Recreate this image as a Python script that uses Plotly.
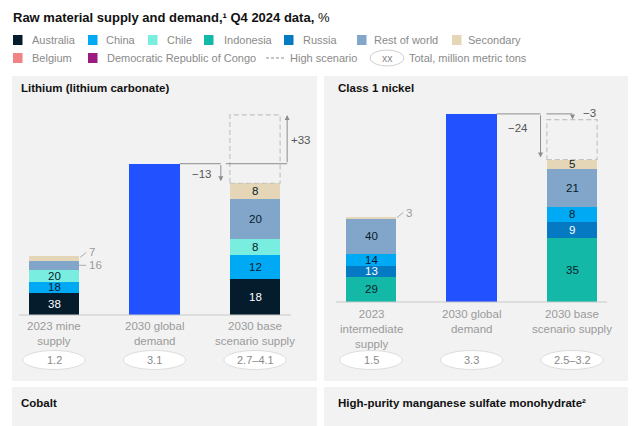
import plotly.graph_objects as go

# The page body has an 8px default margin; the figure is sized to fit the 640x426 window.
OFF = 8
W, H = 640 - OFF, 426 - OFF

# ---------------- DATA ----------------
legend_labels = ["Australia", "China", "Chile", "Indonesia", "Russia", "Rest of world", "Secondary",
                 "Belgium", "Democratic Republic of Congo"]
legend_colors = ["#051C2C", "#00A9F4", "#7AEDE1", "#14B8A6", "#0679C3", "#82A6C9", "#E5D6B7",
                 "#F08383", "#9B1B80"]
color_of = dict(zip(legend_labels, legend_colors))
demand_color = "#2251FF"

# Lithium (lithium carbonate)
li_categories = ["2023 mine<br>supply", "2030 global<br>demand", "2030 base<br>scenario supply"]
li_total_labels = ["1.2", "3.1", "2.7–4.1"]
li_stack_order = ["Australia", "China", "Chile", "Rest of world", "Secondary"]
li_2023_share = [38, 18, 20, 16, 7]
li_2030_share = [18, 12, 8, 20, 8]
li_2023_total = 1.2
li_2030_demand = 3.1
li_2030_base = 2.7
li_2030_high = 4.1
li_gap_labels = ["−13", "+33"]

# Class 1 nickel
ni_categories = ["2023<br>intermediate<br>supply", "2030 global<br>demand", "2030 base<br>scenario supply"]
ni_total_labels = ["1.5", "3.3", "2.5–3.2"]
ni_stack_order = ["Indonesia", "Russia", "China", "Rest of world", "Secondary"]
ni_2023_share = [29, 13, 14, 40, 3]
ni_2030_share = [35, 9, 8, 21, 5]
ni_2023_total = 1.5
ni_2030_demand = 3.3
ni_2030_base = 2.5
ni_2030_high = 3.2
ni_gap_labels = ["−24", "−3"]

title_html = "<b>Raw material supply and demand,¹ Q4 2024 data,</b> %"
panel_titles = ["Lithium (lithium carbonate)", "Class 1 nickel", "Cobalt",
                "High-purity manganese sulfate monohydrate²"]

# ---------------- HELPERS ----------------
FONT = "Liberation Sans"
DARK = "#051C2C"
GRAY_TXT = "#8a8a8a"
LIGHT_TXT = "#9a9a9a"


def px(x):
    return (x - OFF) / W


def py(y):
    return 1 - (y - OFF) / H


fig = go.Figure()
shapes = []
annos = []

# panel backgrounds
panel_bg = "#F2F2F2"
for (x0, y0, x1, y1) in [(12, 76, 317, 381), (324, 76, 628, 381), (12, 387, 317, 440), (324, 387, 628, 440)]:
    shapes.append(dict(type="rect", xref="paper", yref="paper", x0=px(x0), x1=px(x1), y0=py(y1), y1=py(y0),
                       fillcolor=panel_bg, line=dict(width=0), layer="below"))

# axes geometry (window pixels)
UNIT = 100.5  # px per category step
panels = [
    dict(xa="x", ya="y", xaxis="xaxis", yaxis="yaxis", c0=54, xl=19, xr=316, bl=19, br=291,
         base=315, ppm=48.8, top=90),
    dict(xa="x2", ya="y2", xaxis="xaxis2", yaxis="yaxis2", c0=371, xl=336, xr=627, bl=336, br=607,
         base=302, ppm=57.0, top=90),
]
for p in panels:
    fig.layout[p["xaxis"]] = dict(domain=[px(p["xl"]), px(p["xr"])],
                                  range=[(p["xl"] - p["c0"]) / UNIT, (p["xr"] - p["c0"]) / UNIT],
                                  visible=False, anchor=p["ya"], fixedrange=True)
    fig.layout[p["yaxis"]] = dict(domain=[py(p["base"]), py(p["top"])],
                                  range=[0, (p["base"] - p["top"]) / p["ppm"]],
                                  visible=False, anchor=p["xa"], fixedrange=True)
    shapes.append(dict(type="line", xref="paper", yref="paper", x0=px(p["bl"]), x1=px(p["br"]),
                       y0=py(p["base"]), y1=py(p["base"]), line=dict(color="#c8c8c8", width=1)))

BW = 0.5


def add_panel(p, order, share_a, total_a, share_b, total_b, demand, high, cats, tot_labels,
              outside_idx_a, cat_top_px):
    xa, ya = p["xa"], p["ya"]
    sum_a = sum(share_a)
    sum_b = sum(share_b)
    hs_a = [s / sum_a * total_a for s in share_a]
    hs_b = [s / sum_b * total_b for s in share_b]
    for i, name in enumerate(order):
        fig.add_trace(go.Bar(x=[0, 2], y=[hs_a[i], hs_b[i]], width=BW,
                             marker=dict(color=color_of[name], line=dict(width=0)),
                             xaxis=xa, yaxis=ya, showlegend=False, hoverinfo="skip"))
    fig.add_trace(go.Bar(x=[1], y=[demand], width=BW, marker=dict(color=demand_color, line=dict(width=0)),
                         xaxis=xa, yaxis=ya, showlegend=False, hoverinfo="skip"))

    # segment labels
    for xi, shares, hs in [(0, share_a, hs_a), (2, share_b, hs_b)]:
        cum = 0
        for i, name in enumerate(order):
            mid = cum + hs[i] / 2
            cum += hs[i]
            if xi == 0 and i in outside_idx_a:
                continue
            col = "white" if name in ("Australia", "Russia") else DARK
            annos.append(dict(x=xi, y=mid, xref=xa, yref=ya, text=str(shares[i]), showarrow=False,
                              font=dict(family=FONT, size=11.5, color=col), xanchor="center", yanchor="middle"))
    # outside labels for small segments of first bar
    cum = 0
    spans = []
    for h in hs_a:
        spans.append((cum, cum + h))
        cum += h
    ypp = 1 / p["ppm"]
    for i in outside_idx_a:
        lo, hi = spans[i]
        if i == len(order) - 1:  # top segment: diagonal leader
            y0 = hi - 1 * ypp
            y1 = hi + 4 * ypp
            shapes.append(dict(type="line", xref=xa, yref=ya, x0=BW / 2 + 0.01, x1=BW / 2 + 0.07, y0=y0, y1=y1,
                               line=dict(color="#aaaaaa", width=1)))
            annos.append(dict(x=BW / 2 + 0.075, y=y1, xref=xa, yref=ya, text=str(share_a[i]), showarrow=False,
                              font=dict(family=FONT, size=11.5, color=LIGHT_TXT), xanchor="left", yanchor="middle"))
        else:
            mid = (lo + hi) / 2
            shapes.append(dict(type="line", xref=xa, yref=ya, x0=BW / 2, x1=BW / 2 + 0.07, y0=mid, y1=mid,
                               line=dict(color="#aaaaaa", width=1)))
            annos.append(dict(x=BW / 2 + 0.075, y=mid, xref=xa, yref=ya, text=str(share_a[i]), showarrow=False,
                              font=dict(family=FONT, size=11.5, color=LIGHT_TXT), xanchor="left", yanchor="middle"))

    # high-scenario dashed box
    shapes.append(dict(type="rect", xref=xa, yref=ya, x0=2 - BW / 2, x1=2 + BW / 2, y0=total_b, y1=high,
                       line=dict(color="#c4c4c4", width=1.2, dash="5px,3px"), fillcolor="rgba(0,0,0,0)"))

    # category labels and total ellipses
    for i, c in enumerate(cats):
        annos.append(dict(x=i, y=py(cat_top_px), xref=xa, yref="paper", text=c, showarrow=False,
                          font=dict(family=FONT, size=11.5, color=LIGHT_TXT), xanchor="center", yanchor="top",
                          align="center"))
        shapes.append(dict(type="circle", xref=xa, yref="paper", x0=i - 0.31, x1=i + 0.31,
                           y0=py(369.5), y1=py(350.5), fillcolor="white", line=dict(color="#dddddd", width=1)))
        annos.append(dict(x=i, y=py(360), xref=xa, yref="paper", text=tot_labels[i], showarrow=False,
                          font=dict(family=FONT, size=11, color=GRAY_TXT), xanchor="center", yanchor="middle"))


arrow_col = "#8c8c8c"


def gap_arrows(p, demand, base, high, x_down, x_up0, x_up1):
    xa, ya = p["xa"], p["ya"]
    shapes.append(dict(type="line", xref=xa, yref=ya, x0=1 + BW / 2, x1=x_down, y0=demand, y1=demand,
                       line=dict(color=arrow_col, width=1)))
    annos.append(dict(x=x_down, y=base + 2 / p["ppm"], ax=x_down, ay=demand, xref=xa, yref=ya, axref=xa, ayref=ya,
                      showarrow=True, arrowhead=2, arrowsize=1, arrowwidth=1, arrowcolor=arrow_col, text=""))
    shapes.append(dict(type="line", xref=xa, yref=ya, x0=x_up0, x1=x_up1, y0=demand, y1=demand,
                       line=dict(color=arrow_col, width=1)))
    annos.append(dict(x=x_up1, y=high, ax=x_up1, ay=demand, xref=xa, yref=ya, axref=xa, ayref=ya,
                      showarrow=True, arrowhead=2, arrowsize=1, arrowwidth=1, arrowcolor=arrow_col, text=""))


pL, pN = panels
# Lithium
add_panel(pL, li_stack_order, li_2023_share, li_2023_total, li_2030_share, li_2030_base, li_2030_demand,
          li_2030_high, li_categories, li_total_labels, [3, 4], 318)
gap_arrows(pL, li_2030_demand, li_2030_base, li_2030_high, 1.66, 1.71, 2.32)
annos.append(dict(x=1.47, y=(315 - 174) / pL["ppm"], xref="x", yref="y", text=li_gap_labels[0], showarrow=False,
                  font=dict(family=FONT, size=11.5, color="#555555"), xanchor="center", yanchor="middle"))
annos.append(dict(x=2.46, y=(315 - 140) / pL["ppm"], xref="x", yref="y", text=li_gap_labels[1], showarrow=False,
                  font=dict(family=FONT, size=11.5, color="#555555"), xanchor="center", yanchor="middle"))

# Nickel
add_panel(pN, ni_stack_order, ni_2023_share, ni_2023_total, ni_2030_share, ni_2030_base, ni_2030_demand,
          ni_2030_high, ni_categories, ni_total_labels, [4], 306)
gap_arrows(pN, ni_2030_demand, ni_2030_base, ni_2030_high, 1.687, 1.746, 2.005)
annos.append(dict(x=1.46, y=(302 - 128) / pN["ppm"], xref="x2", yref="y2", text=ni_gap_labels[0], showarrow=False,
                  font=dict(family=FONT, size=11.5, color="#555555"), xanchor="center", yanchor="middle"))
annos.append(dict(x=2.17, y=(302 - 113) / pN["ppm"], xref="x2", yref="y2", text=ni_gap_labels[1], showarrow=False,
                  font=dict(family=FONT, size=11.5, color="#555555"), xanchor="center", yanchor="middle"))

# panel titles
for (t, x, y) in zip(panel_titles, [19, 336, 19, 336], [88, 88, 403, 403]):
    annos.append(dict(x=px(x), y=py(y), xref="paper", yref="paper", text="<b>" + t + "</b>", showarrow=False,
                      font=dict(family=FONT, size=11.5, color="#111111"), xanchor="left", yanchor="middle"))

# main title
annos.append(dict(x=px(11), y=py(8), xref="paper", yref="paper", text=title_html, showarrow=False,
                  font=dict(family=FONT, size=13, color="#111111"), xanchor="left", yanchor="top"))

# legend (manual)
leg_sq_x = [13, 88, 148, 204, 284, 357, 452, 13, 88]
leg_tx_x = [30, 104, 165, 222, 301, 372, 466, 30, 105]
leg_y = [40, 40, 40, 40, 40, 40, 40, 58, 58]
for lab, col, sx, tx, ly in zip(legend_labels, legend_colors, leg_sq_x, leg_tx_x, leg_y):
    shapes.append(dict(type="rect", xref="paper", yref="paper", x0=px(sx), x1=px(sx + 9.5), y0=py(ly + 5),
                       y1=py(ly - 5), fillcolor=col, line=dict(width=0)))
    annos.append(dict(x=px(tx), y=py(ly), xref="paper", yref="paper", text=lab, showarrow=False,
                      font=dict(family=FONT, size=11, color=GRAY_TXT), xanchor="left", yanchor="middle"))
shapes.append(dict(type="line", xref="paper", yref="paper", x0=px(266), x1=px(285), y0=py(58), y1=py(58),
                   line=dict(color="#8a8a8a", width=1, dash="3px,2px")))
annos.append(dict(x=px(288), y=py(58), xref="paper", yref="paper", text="High scenario", showarrow=False,
                  font=dict(family=FONT, size=11, color=GRAY_TXT), xanchor="left", yanchor="middle"))
shapes.append(dict(type="circle", xref="paper", yref="paper", x0=px(370), x1=px(404), y0=py(66), y1=py(50),
                   fillcolor="white", line=dict(color="#d0d0d0", width=1)))
annos.append(dict(x=px(387), y=py(58), xref="paper", yref="paper", text="xx", showarrow=False,
                  font=dict(family=FONT, size=10.5, color=GRAY_TXT), xanchor="center", yanchor="middle"))
annos.append(dict(x=px(407), y=py(58), xref="paper", yref="paper", text="Total, million metric tons",
                  showarrow=False, font=dict(family=FONT, size=11, color=GRAY_TXT), xanchor="left",
                  yanchor="middle"))

fig.update_layout(width=W, height=H, margin=dict(l=0, r=0, t=0, b=0), barmode="stack",
                  paper_bgcolor="white", plot_bgcolor="rgba(0,0,0,0)", shapes=shapes, annotations=annos,
                  showlegend=False, font=dict(family=FONT))
fig.write_html("out.html", config={"displayModeBar": False})
